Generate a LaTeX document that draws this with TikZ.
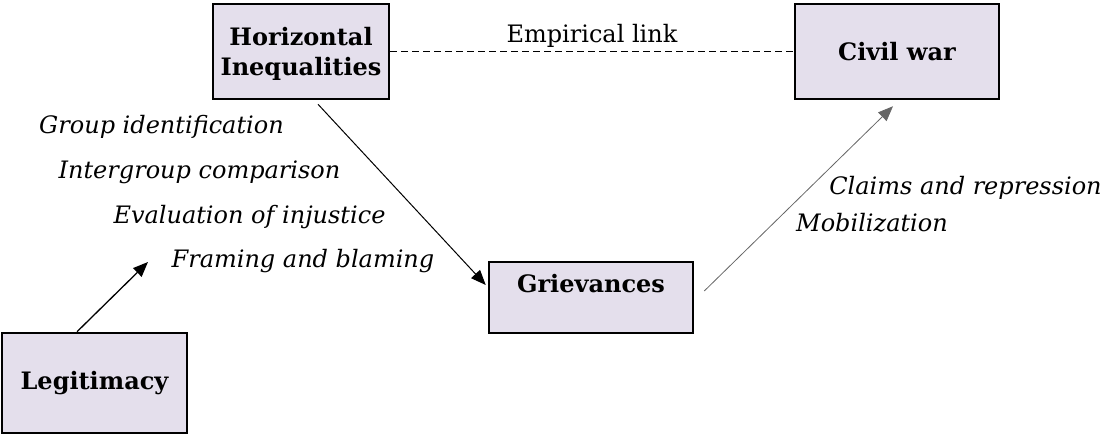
\documentclass[tikz,border=0pt]{standalone}
\usepackage{fontspec}
\setmainfont{DejaVu Serif}
\usetikzlibrary{arrows.meta,calc}
\definecolor{boxfill}{HTML}{E4DFEC}
\tikzset{
  box/.style={draw=black, line width=2.5pt, fill=boxfill, inner sep=0pt, align=center,
    font=\fontsize{24}{30}\selectfont\bfseries},
  lbl/.style={inner sep=0pt, anchor=center, font=\fontsize{24}{28}\selectfont\itshape},
  tip/.style={-{Triangle[length=15pt,width=12pt]}},
}
\begin{document}
\begin{tikzpicture}[x=1pt,y=-1pt]
\useasboundingbox (0,0) rectangle (1102,435);
\node[box, minimum width=176pt, minimum height=95pt, text depth=0pt] (hi) at (301,51.5) {Horizontal\\Inequalities};
\node[box, minimum width=204pt, minimum height=95pt] (cw) at (897,51.5) {Civil war};
\node[box, minimum width=204pt, minimum height=71pt, text height=18pt, text depth=28pt] (gr) at (591,297.5) {Grievances};
\node[box, minimum width=185pt, minimum height=100pt] (leg) at (94.5,383) {Legitimacy};
\coordinate (legtip) at (148,262);
\draw[line width=1.2pt, dash pattern=on 7pt off 4pt] (hi.east) -- node[above=3pt, font=\fontsize{24}{28}\selectfont, inner sep=0pt] (el) {Empirical link} (cw.west);
\draw[tip, line width=1pt] ([xshift=17pt,yshift=-4pt]hi.south) -- ([xshift=-2pt,yshift=12.5pt]gr.west);
\draw[tip, line width=1.3pt] ([xshift=-17.5pt]leg.north) -- (legtip);
\draw[tip, line width=0.8pt, draw=gray!80!black] ([xshift=10pt,yshift=6.5pt]gr.east) -- ([xshift=-4pt,yshift=-6pt]cw.south);
\node[lbl] (t1) at (161.5,127) {Group identification};
\node[lbl] (t2) at (199.5,172) {Intergroup comparison};
\node[lbl] (t3) at (249.5,217) {Evaluation of injustice};
\node[lbl] (t4) at (303,261) {Framing and blaming};
\node[lbl] (t5) at (965.5,188) {Claims and repression};
\node[lbl] (t6) at (872,223) {Mobilization};
\end{tikzpicture}
\end{document}
